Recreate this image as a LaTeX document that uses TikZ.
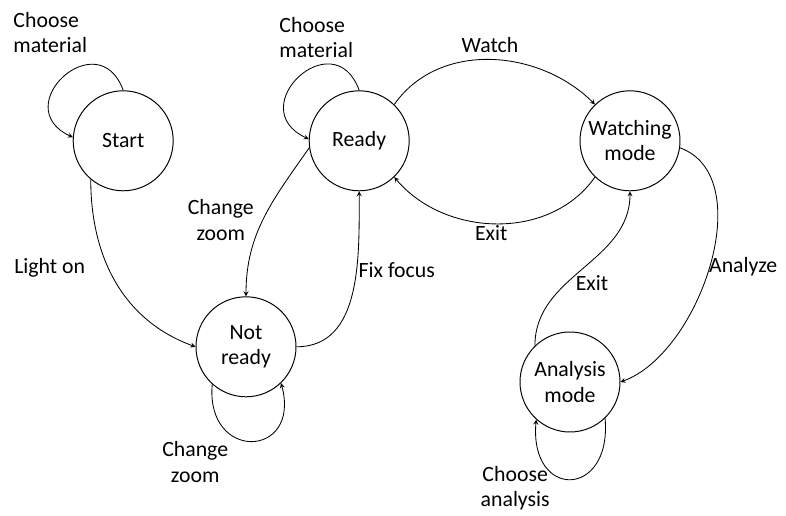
\documentclass[tikz,border=0pt]{standalone}
\usepackage{fontspec}
\setmainfont{Carlito}
\usetikzlibrary{arrows,positioning}
\tikzset{
  every node/.style={font=\fontsize{15.5}{18}\selectfont},
  state/.style={circle,draw,line width=0.7pt,minimum size=2.5cm,inner sep=0pt,align=center},
  ar/.style={->,>=stealth,line width=0.6pt},
  lab/.style={align=center,inner sep=1pt},
  labl/.style={align=left,inner sep=0pt,anchor=west},
}

\begin{document}
\begin{tikzpicture}[x=1cm,y=1cm]
\useasboundingbox (0,0) rectangle (19.65,12.9);

% states
\node[state] (start) at (3.08,9.38) {Start};
\node[state] (ready) at (8.98,9.38) {Ready};
\node[state] (watch) at (15.75,9.38) {Watching\\mode};
\node[state] (nready) at (6.15,4.23) {Not\\ready};
\node[state] (anl) at (14.25,3.35) {Analysis\\mode};

% transitions
\draw[ar] (start.90) to[out=110,in=155,looseness=2.7] (start.176);
\draw[ar] (ready.90) to[out=110,in=155,looseness=2.7] (ready.178);
\draw[ar] (start.230) to[out=-90,in=160] (nready.180);
\draw[ar] (ready.188) to[out=235,in=90] (nready.90);
\draw[ar] (nready.0) to[out=0,in=-90] (ready.-90);
\draw[ar] (nready.228) to[out=-95,in=-75,looseness=2.9] (nready.314);
\draw[ar] (ready.46) to[out=55,in=135] (watch.134);
\draw[ar] (watch.226) to[out=-125,in=-50] (ready.314);
\draw[ar] (watch.-8) to[out=-20,in=20,looseness=0.9] (anl.0);
\draw[ar] (anl.134) to[out=90,in=-90] (watch.-90);
\draw[ar] (anl.314) to[out=-85,in=-95,looseness=3] (anl.228);

% labels
\node[labl] (l1) at (0.33,12.09) {Choose\\material};
\node[labl] (l2) at (6.98,11.96) {Choose\\material};
\node[lab] (l3) at (12.25,11.78) {Watch};
\node[lab] (l4) at (12.28,7.08) {Exit};
\node[labl] (l5) at (0.35,6.2) {Light on};
\node[lab] (l6) at (5.52,7.4) {Change\\zoom};
\node[lab] (l7) at (9.92,6.15) {Fix focus};
\node[lab] (l8) at (4.88,1.35) {Change\\zoom};
\node[lab] (l9) at (14.8,5.83) {Exit};
\node[lab] (l10) at (18.58,6.23) {Analyze};
\node[lab] (l11) at (12.88,0.7) {Choose\\analysis};
\end{tikzpicture}
\end{document}
